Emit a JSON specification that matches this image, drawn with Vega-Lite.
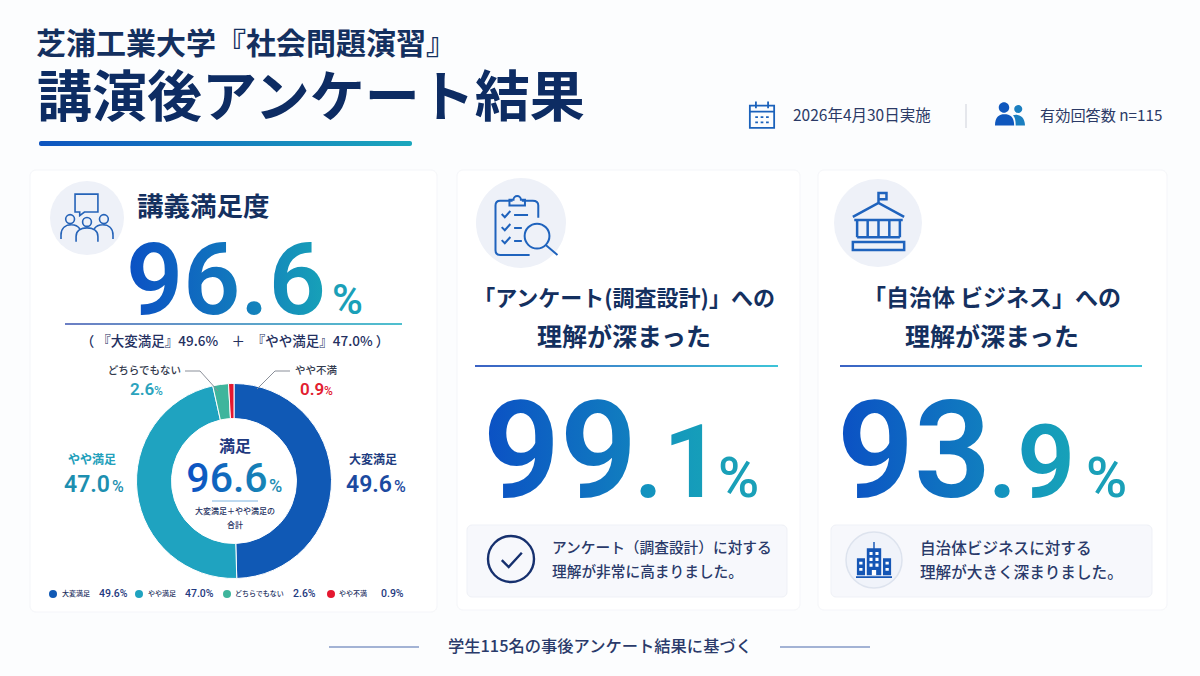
{
  "$schema": "https://vega.github.io/schema/vega-lite/v6.json",
  "description": "Post-lecture survey results: satisfaction donut and two understanding scores",
  "width": 1200,
  "height": 676,
  "autosize": {"type": "fit", "contains": "padding"},
  "padding": 0,
  "background": "#fcfdfe",
  "config": {
    "axis": {"disable": true},
    "view": {"stroke": null},
    "text": {"font": "Noto Sans CJK JP", "baseline": "middle", "align": "left", "color": "#14305f"}
  },
  "datasets": {
    "shares": [
      {"category": "大変満足", "share": 49.6, "rank": 1, "pct": "49.6%"},
      {"category": "やや満足", "share": 47.0, "rank": 2, "pct": "47.0%"},
      {"category": "どちらでもない", "share": 2.6, "rank": 3, "pct": "2.6%"},
      {"category": "やや不満", "share": 0.9, "rank": 4, "pct": "0.9%"}
    ]
  },
  "data": {"values": [{"part": "frame"}]},
  "layer": [
    {"mark": {"type": "rect", "fill": "#ffffff", "stroke": "#f4f5f9", "cornerRadius": 6},
     "encoding": {"x": {"datum": 30, "scale": {"domain": [0, 1200], "nice": false, "zero": false}}, "x2": {"datum": 437},
                  "y": {"datum": 170, "scale": {"domain": [0, 676], "nice": false, "zero": false, "reverse": true}}, "y2": {"datum": 612}}},
    {"mark": {"type": "rect", "fill": "#ffffff", "stroke": "#f4f5f9", "cornerRadius": 6},
     "encoding": {"x": {"datum": 457}, "x2": {"datum": 800}, "y": {"datum": 170}, "y2": {"datum": 610}}},
    {"mark": {"type": "rect", "fill": "#ffffff", "stroke": "#f4f5f9", "cornerRadius": 6},
     "encoding": {"x": {"datum": 818}, "x2": {"datum": 1167}, "y": {"datum": 170}, "y2": {"datum": 610}}},

    {"data": {"values": [{"label": "芝浦工業大学『社会問題演習』"}]}, "mark": {"type": "text", "fontSize": 30, "fontWeight": 700},
     "encoding": {"x": {"datum": 36}, "y": {"datum": 45}, "text": {"field": "label"}}},
    {"data": {"values": [{"label": "講演後アンケート結果"}]}, "mark": {"type": "text", "fontSize": 55, "fontWeight": 700, "color": "#0d2c63"},
     "encoding": {"x": {"datum": 37}, "y": {"datum": 99}, "text": {"field": "label"}}},
    {"mark": {"type": "rect", "cornerRadius": 2, "fill": {"gradient": "linear", "x1": 0, "y1": 0, "x2": 1, "y2": 0, "stops": [{"offset": 0, "color": "#0f55c0"}, {"offset": 1, "color": "#1ba7bd"}]}},
     "encoding": {"x": {"datum": 39}, "x2": {"datum": 412}, "y": {"datum": 141}, "y2": {"datum": 146}}},

    {"mark": {"type": "point", "filled": false, "stroke": "#1b62bb", "strokeWidth": 1.8, "opacity": 1, "size": 729, "shape": "M-.9 -.7 H.9 V.95 H-.9 Z M-.9 -.25 H.9 M-.45 -1 V-.5 M.45 -1 V-.5 M-.5 .15 H-.3 M-.1 .15 H.1 M.3 .15 H.5 M-.5 .55 H-.3 M-.1 .55 H.1 M.3 .55 H.5"},
     "encoding": {"x": {"datum": 762}, "y": {"datum": 115}}},
    {"data": {"values": [{"label": "2026年4月30日実施"}]}, "mark": {"type": "text", "fontSize": 15.5, "color": "#2b3a66"},
     "encoding": {"x": {"datum": 793}, "y": {"datum": 116}, "text": {"field": "label"}}},
    {"mark": {"type": "rule", "stroke": "#d5d9e0", "strokeWidth": 1.2},
     "encoding": {"x": {"datum": 966}, "y": {"datum": 104}, "y2": {"datum": 128}}},
    {"mark": {"type": "point", "filled": true, "fill": "#1b7fc0", "opacity": 1, "size": 900, "shape": "M.28 -.4 A.27 .27 0 1 0 .82 -.4 A.27 .27 0 1 0 .28 -.4 Z M.38 .7 C.38 .35 .33 .15 .2 .02 C.55 -.1 1 .1 1 .7 Z"},
     "encoding": {"x": {"datum": 1010}, "y": {"datum": 115}}},
    {"mark": {"type": "point", "filled": true, "fill": "#0f57bd", "opacity": 1, "size": 900, "shape": "M-.75 -.5 A.35 .35 0 1 0 -.05 -.5 A.35 .35 0 1 0 -.75 -.5 Z M-1 .7 C-1 .1 -.7 -.05 -.38 -.05 C0 -.05 .28 .1 .28 .7 Z"},
     "encoding": {"x": {"datum": 1010}, "y": {"datum": 115}}},
    {"data": {"values": [{"label": "有効回答数 n=115"}]}, "mark": {"type": "text", "fontSize": 15.2, "color": "#2b3a66"},
     "encoding": {"x": {"datum": 1040}, "y": {"datum": 116}, "text": {"field": "label"}}},

    {"mark": {"type": "point", "shape": "circle", "filled": true, "fill": "#eef1f8", "opacity": 1, "size": 5476},
     "encoding": {"x": {"datum": 87}, "y": {"datum": 218}}},
    {"mark": {"type": "point", "filled": false, "stroke": "#2563b8", "strokeWidth": 1.6, "opacity": 1, "size": 2704, "shape": "M-.46 -.88 H.42 V-.19 H-.1 L-.28 -.05 V-.19 H-.46 Z M-.82 .08 A.17 .17 0 1 0 -.48 .08 A.17 .17 0 1 0 -.82 .08 Z M-.17 .19 A.17 .17 0 1 0 .17 .19 A.17 .17 0 1 0 -.17 .19 Z M.48 .08 A.17 .17 0 1 0 .82 .08 A.17 .17 0 1 0 .48 .08 Z M-1 .85 V.7 C-1 .4 -.8 .3 -.6 .3 C-.45 .3 -.35 .35 -.28 .45 M-.42 .95 V.75 C-.42 .5 -.2 .42 0 .42 C.2 .42 .42 .5 .42 .75 V.95 M1 .85 V.7 C1 .4 .8 .3 .6 .3 C.45 .3 .35 .35 .28 .45"},
     "encoding": {"x": {"datum": 87}, "y": {"datum": 217}}},
    {"data": {"values": [{"label": "講義満足度"}]}, "mark": {"type": "text", "fontSize": 26.5, "fontWeight": 700},
     "encoding": {"x": {"datum": 137}, "y": {"datum": 208}, "text": {"field": "label"}}},
    {"data": {"values": [{"metric": "講義満足度", "value": 96.6}]},
     "mark": {"type": "text", "font": "Roboto", "fontWeight": 600, "fontSize": 100, "baseline": "alphabetic", "align": "center", "fill": {"gradient": "linear", "x1": 0, "y1": 0, "x2": 1, "y2": 0, "stops": [{"offset": 0, "color": "#0b50c4"}, {"offset": 0.55, "color": "#1279bd"}, {"offset": 1, "color": "#17a2b8"}]}},
     "encoding": {"x": {"datum": 226}, "y": {"datum": 314}, "text": {"field": "value", "type": "quantitative", "format": ".1f"}}},
    {"mark": {"type": "text", "text": "%", "font": "Roboto", "fontWeight": 500, "fontSize": 42, "baseline": "alphabetic", "color": "#1aa0b8"},
     "encoding": {"x": {"datum": 332}, "y": {"datum": 314}}},
    {"mark": {"type": "rect", "fill": {"gradient": "linear", "x1": 0, "y1": 0, "x2": 1, "y2": 0, "stops": [{"offset": 0, "color": "#6c7fc4"}, {"offset": 1, "color": "#4fc0cf"}]}},
     "encoding": {"x": {"datum": 65}, "x2": {"datum": 402}, "y": {"datum": 323}, "y2": {"datum": 325}}},
    {"data": {"values": [{"label": "（ 『大変満足』49.6%　＋　『やや満足』47.0% ）"}]}, "mark": {"type": "text", "fontSize": 13.5, "align": "center", "fontWeight": 500, "color": "#24305f"},
     "encoding": {"x": {"datum": 235}, "y": {"datum": 342}, "text": {"field": "label"}}},

    {"data": {"name": "shares"},
     "mark": {"type": "arc", "innerRadius": 62.5, "outerRadius": 97.5, "stroke": "#ffffff", "strokeWidth": 1},
     "encoding": {
       "x": {"datum": 234}, "y": {"datum": 481},
       "theta": {"field": "share", "type": "quantitative", "stack": true},
       "order": {"field": "rank", "type": "ordinal"},
       "color": {"field": "category", "type": "nominal", "legend": null,
                 "scale": {"domain": ["大変満足", "やや満足", "どちらでもない", "やや不満"], "range": ["#1059b5", "#1fa3c0", "#3fb59c", "#e5172f"]}}
     }},

    {"mark": {"type": "rule", "stroke": "#8a8f99", "strokeWidth": 1}, "encoding": {"x": {"datum": 185}, "x2": {"datum": 200}, "y": {"datum": 371}, "y2": {"datum": 371}}},
    {"mark": {"type": "rule", "stroke": "#8a8f99", "strokeWidth": 1}, "encoding": {"x": {"datum": 200}, "x2": {"datum": 218}, "y": {"datum": 371}, "y2": {"datum": 391}}},
    {"mark": {"type": "rule", "stroke": "#8a8f99", "strokeWidth": 1}, "encoding": {"x": {"datum": 257}, "x2": {"datum": 275}, "y": {"datum": 389}, "y2": {"datum": 371}}},
    {"mark": {"type": "rule", "stroke": "#8a8f99", "strokeWidth": 1}, "encoding": {"x": {"datum": 275}, "x2": {"datum": 290}, "y": {"datum": 371}, "y2": {"datum": 371}}},

    {"data": {"values": [{"label": "どちらでもない"}]}, "mark": {"type": "text", "fontSize": 10.5, "fontWeight": 500, "align": "right", "color": "#333a4d"},
     "encoding": {"x": {"datum": 181}, "y": {"datum": 371}, "text": {"field": "label"}}},
    {"data": {"name": "shares"}, "transform": [{"filter": "datum.rank === 3"}], "mark": {"type": "text", "font": "Roboto", "fontWeight": 600, "fontSize": 17, "color": "#2aa3bd"},
     "encoding": {"x": {"datum": 130}, "y": {"datum": 390}, "text": {"field": "share", "type": "quantitative", "format": ".1f"}}},
    {"mark": {"type": "text", "text": "%", "font": "Roboto", "fontWeight": 500, "fontSize": 12, "color": "#2aa3bd"},
     "encoding": {"x": {"datum": 154}, "y": {"datum": 391}}},
    {"data": {"values": [{"label": "やや不満"}]}, "mark": {"type": "text", "fontSize": 10.5, "fontWeight": 500, "color": "#333a4d"},
     "encoding": {"x": {"datum": 295}, "y": {"datum": 371}, "text": {"field": "label"}}},
    {"data": {"name": "shares"}, "transform": [{"filter": "datum.rank === 4"}], "mark": {"type": "text", "font": "Roboto", "fontWeight": 600, "fontSize": 17, "color": "#e2202f"},
     "encoding": {"x": {"datum": 300}, "y": {"datum": 390}, "text": {"field": "share", "type": "quantitative", "format": ".1f"}}},
    {"mark": {"type": "text", "text": "%", "font": "Roboto", "fontWeight": 500, "fontSize": 12, "color": "#e2202f"},
     "encoding": {"x": {"datum": 324}, "y": {"datum": 391}}},
    {"data": {"values": [{"label": "やや満足"}]}, "mark": {"type": "text", "fontSize": 12, "fontWeight": 700, "align": "center", "color": "#23a0bb"},
     "encoding": {"x": {"datum": 92}, "y": {"datum": 460}, "text": {"field": "label"}}},
    {"data": {"name": "shares"}, "transform": [{"filter": "datum.rank === 2"}], "mark": {"type": "text", "font": "Roboto", "fontWeight": 600, "fontSize": 23, "color": "#1d8fb0"},
     "encoding": {"x": {"datum": 64}, "y": {"datum": 485}, "text": {"field": "share", "type": "quantitative", "format": ".1f"}}},
    {"mark": {"type": "text", "text": "%", "font": "Roboto", "fontWeight": 500, "fontSize": 16, "color": "#1d8fb0"},
     "encoding": {"x": {"datum": 112}, "y": {"datum": 487}}},
    {"data": {"values": [{"label": "大変満足"}]}, "mark": {"type": "text", "fontSize": 12, "fontWeight": 700, "align": "center", "color": "#1d3c80"},
     "encoding": {"x": {"datum": 373}, "y": {"datum": 460}, "text": {"field": "label"}}},
    {"data": {"name": "shares"}, "transform": [{"filter": "datum.rank === 1"}], "mark": {"type": "text", "font": "Roboto", "fontWeight": 600, "fontSize": 23, "color": "#1c4aa0"},
     "encoding": {"x": {"datum": 346}, "y": {"datum": 485}, "text": {"field": "share", "type": "quantitative", "format": ".1f"}}},
    {"mark": {"type": "text", "text": "%", "font": "Roboto", "fontWeight": 500, "fontSize": 16, "color": "#1c4aa0"},
     "encoding": {"x": {"datum": 394}, "y": {"datum": 487}}},

    {"data": {"values": [{"label": "満足"}]}, "mark": {"type": "text", "fontSize": 16, "fontWeight": 700, "align": "center", "color": "#1f3a80"},
     "encoding": {"x": {"datum": 235}, "y": {"datum": 447}, "text": {"field": "label"}}},
    {"data": {"values": [{"metric": "満足", "value": 96.6}]},
     "mark": {"type": "text", "font": "Roboto", "fontWeight": 500, "fontSize": 41, "baseline": "alphabetic", "align": "center", "fill": {"gradient": "linear", "x1": 0, "y1": 0, "x2": 1, "y2": 0, "stops": [{"offset": 0, "color": "#0b50c4"}, {"offset": 1, "color": "#1787b5"}]}},
     "encoding": {"x": {"datum": 227}, "y": {"datum": 492}, "text": {"field": "value", "type": "quantitative", "format": ".1f"}}},
    {"mark": {"type": "text", "text": "%", "font": "Roboto", "fontWeight": 500, "fontSize": 18, "baseline": "alphabetic", "color": "#1e8db5"},
     "encoding": {"x": {"datum": 269}, "y": {"datum": 492}}},
    {"mark": {"type": "rule", "stroke": "#7fb4e0", "strokeWidth": 1}, "encoding": {"x": {"datum": 212}, "x2": {"datum": 258}, "y": {"datum": 501}, "y2": {"datum": 501}}},
    {"data": {"values": [{"label": "大変満足＋やや満足の"}]}, "mark": {"type": "text", "fontSize": 8, "fontWeight": 500, "align": "center", "color": "#24305f"},
     "encoding": {"x": {"datum": 235}, "y": {"datum": 512}, "text": {"field": "label"}}},
    {"data": {"values": [{"label": "合計"}]}, "mark": {"type": "text", "fontSize": 8, "fontWeight": 500, "align": "center", "color": "#24305f"},
     "encoding": {"x": {"datum": 235}, "y": {"datum": 526}, "text": {"field": "label"}}},

    {"mark": {"type": "point", "shape": "circle", "filled": true, "fill": "#1059b5", "opacity": 1, "size": 64}, "encoding": {"x": {"datum": 53}, "y": {"datum": 594}}},
    {"mark": {"type": "point", "shape": "circle", "filled": true, "fill": "#1fa3c0", "opacity": 1, "size": 64}, "encoding": {"x": {"datum": 139}, "y": {"datum": 594}}},
    {"mark": {"type": "point", "shape": "circle", "filled": true, "fill": "#3fb59c", "opacity": 1, "size": 64}, "encoding": {"x": {"datum": 227}, "y": {"datum": 594}}},
    {"mark": {"type": "point", "shape": "circle", "filled": true, "fill": "#e5172f", "opacity": 1, "size": 64}, "encoding": {"x": {"datum": 331}, "y": {"datum": 594}}},
    {"data": {"name": "shares"}, "transform": [{"filter": "datum.rank === 1"}], "mark": {"type": "text", "fontSize": 7, "fontWeight": 500, "color": "#24305f"}, "encoding": {"x": {"datum": 62}, "y": {"datum": 594}, "text": {"field": "category"}}},
    {"data": {"name": "shares"}, "transform": [{"filter": "datum.rank === 2"}], "mark": {"type": "text", "fontSize": 7, "fontWeight": 500, "color": "#24305f"}, "encoding": {"x": {"datum": 148}, "y": {"datum": 594}, "text": {"field": "category"}}},
    {"data": {"name": "shares"}, "transform": [{"filter": "datum.rank === 3"}], "mark": {"type": "text", "fontSize": 7, "fontWeight": 500, "color": "#24305f"}, "encoding": {"x": {"datum": 235}, "y": {"datum": 594}, "text": {"field": "category"}}},
    {"data": {"name": "shares"}, "transform": [{"filter": "datum.rank === 4"}], "mark": {"type": "text", "fontSize": 7, "fontWeight": 500, "color": "#24305f"}, "encoding": {"x": {"datum": 339}, "y": {"datum": 594}, "text": {"field": "category"}}},
    {"data": {"name": "shares"}, "transform": [{"filter": "datum.rank === 1"}], "mark": {"type": "text", "font": "Roboto", "fontSize": 10.5, "fontWeight": 500, "color": "#1f3a80"}, "encoding": {"x": {"datum": 99}, "y": {"datum": 594}, "text": {"field": "pct"}}},
    {"data": {"name": "shares"}, "transform": [{"filter": "datum.rank === 2"}], "mark": {"type": "text", "font": "Roboto", "fontSize": 10.5, "fontWeight": 500, "color": "#1f3a80"}, "encoding": {"x": {"datum": 185}, "y": {"datum": 594}, "text": {"field": "pct"}}},
    {"data": {"name": "shares"}, "transform": [{"filter": "datum.rank === 3"}], "mark": {"type": "text", "font": "Roboto", "fontSize": 10.5, "fontWeight": 500, "color": "#1f3a80"}, "encoding": {"x": {"datum": 293}, "y": {"datum": 594}, "text": {"field": "pct"}}},
    {"data": {"name": "shares"}, "transform": [{"filter": "datum.rank === 4"}], "mark": {"type": "text", "font": "Roboto", "fontSize": 10.5, "fontWeight": 500, "color": "#1f3a80"}, "encoding": {"x": {"datum": 381}, "y": {"datum": 594}, "text": {"field": "pct"}}},

    {"mark": {"type": "point", "shape": "circle", "filled": true, "fill": "#eef1f8", "opacity": 1, "size": 8100},
     "encoding": {"x": {"datum": 521}, "y": {"datum": 223}}},
    {"mark": {"type": "point", "filled": false, "stroke": "#1f63bd", "strokeWidth": 2, "opacity": 1, "size": 3844, "shape": "M-.45 -.75 H-.85 Q-1 -.75 -1 -.6 V.85 Q-1 1 -.85 1 H.1 M.38 -.2 V-.6 Q.38 -.75 .2 -.75 H-.15 M-.55 -.6 H-.05 V-.78 H-.18 A.12 .12 0 0 0 -.42 -.78 H-.55 Z M-.8 -.32 L-.7 -.22 L-.52 -.42 M-.4 -.29 H.05 M-.8 .1 L-.7 .2 L-.52 0 M-.4 .13 H-.15 M-.8 .52 L-.7 .62 L-.52 .42 M-.4 .55 H-.15 M-.06 .39 A.4 .4 0 1 0 .74 .39 A.4 .4 0 1 0 -.06 .39 M.62 .68 L1 1"},
     "encoding": {"x": {"datum": 526.5}, "y": {"datum": 224}}},
    {"data": {"values": [{"label": "「アンケート(調査設計)」への"}]}, "mark": {"type": "text", "fontSize": 22, "fontWeight": 700, "align": "center"},
     "encoding": {"x": {"datum": 624}, "y": {"datum": 299}, "text": {"field": "label"}}},
    {"data": {"values": [{"label": "理解が深まった"}]}, "mark": {"type": "text", "fontSize": 25, "fontWeight": 700, "align": "center"},
     "encoding": {"x": {"datum": 624}, "y": {"datum": 338}, "text": {"field": "label"}}},
    {"mark": {"type": "rect", "fill": {"gradient": "linear", "x1": 0, "y1": 0, "x2": 1, "y2": 0, "stops": [{"offset": 0, "color": "#3b62c4"}, {"offset": 1, "color": "#3dc4d8"}]}},
     "encoding": {"x": {"datum": 475}, "x2": {"datum": 778}, "y": {"datum": 365}, "y2": {"datum": 367}}},
    {"data": {"values": [{"metric": "アンケート（調査設計）", "label": "99"}]},
     "mark": {"type": "text", "font": "Roboto", "fontWeight": 600, "fontSize": 135, "baseline": "alphabetic", "align": "center", "fill": {"gradient": "linear", "x1": 0, "y1": 0, "x2": 1, "y2": 0, "stops": [{"offset": 0, "color": "#0b50c4"}, {"offset": 1, "color": "#1180bf"}]}},
     "encoding": {"x": {"datum": 560}, "y": {"datum": 497}, "text": {"field": "label"}}},
    {"data": {"values": [{"metric": "アンケート（調査設計）", "label": ".1"}]},
     "mark": {"type": "text", "font": "Roboto", "fontWeight": 600, "fontSize": 102, "baseline": "alphabetic", "fill": {"gradient": "linear", "x1": 0, "y1": 0, "x2": 1, "y2": 0, "stops": [{"offset": 0, "color": "#1290c0"}, {"offset": 1, "color": "#17a2b8"}]}},
     "encoding": {"x": {"datum": 634}, "y": {"datum": 497}, "text": {"field": "label"}}},
    {"mark": {"type": "text", "text": "%", "font": "Roboto", "fontWeight": 500, "fontSize": 56, "baseline": "alphabetic", "color": "#1aa0b8"},
     "encoding": {"x": {"datum": 718}, "y": {"datum": 497}}},
    {"mark": {"type": "rect", "fill": "#f7f8fc", "stroke": "#eff1f7", "cornerRadius": 5},
     "encoding": {"x": {"datum": 467}, "x2": {"datum": 787}, "y": {"datum": 525}, "y2": {"datum": 597}}},
    {"mark": {"type": "point", "filled": false, "stroke": "#16306e", "strokeWidth": 2.4, "opacity": 1, "size": 2116, "shape": "M-1 0 A1 1 0 1 0 1 0 A1 1 0 1 0 -1 0 Z M-.4 .05 L-.1 .35 L.47 -.27"},
     "encoding": {"x": {"datum": 511}, "y": {"datum": 559}}},
    {"data": {"values": [{"label": "アンケート（調査設計）に対する"}]}, "mark": {"type": "text", "fontSize": 14.7, "fontWeight": 500, "color": "#2a3a6a"},
     "encoding": {"x": {"datum": 552}, "y": {"datum": 549}, "text": {"field": "label"}}},
    {"data": {"values": [{"label": "理解が非常に高まりました。"}]}, "mark": {"type": "text", "fontSize": 14.7, "fontWeight": 500, "color": "#2a3a6a"},
     "encoding": {"x": {"datum": 552}, "y": {"datum": 573}, "text": {"field": "label"}}},

    {"mark": {"type": "point", "shape": "circle", "filled": true, "fill": "#eef1f8", "opacity": 1, "size": 7744},
     "encoding": {"x": {"datum": 878}, "y": {"datum": 223}}},
    {"mark": {"type": "point", "filled": false, "stroke": "#1f63bd", "strokeWidth": 2.5, "opacity": 1, "size": 3249, "shape": "M0 -.65 V-1 H.28 V-.78 H0 M-.9 -.16 L0 -.65 L.9 -.16 M-.85 -.05 H.85 M-.75 -.05 V.55 M-.38 -.05 V.55 M0 -.05 V.55 M.38 -.05 V.55 M.75 -.05 V.55 M-.75 .55 H.75 M-.9 .72 H.9 V1 H-.9 Z"},
     "encoding": {"x": {"datum": 878.5}, "y": {"datum": 221.5}}},
    {"data": {"values": [{"label": "「自治体 ビジネス」への"}]}, "mark": {"type": "text", "fontSize": 23, "fontWeight": 700, "align": "center"},
     "encoding": {"x": {"datum": 992}, "y": {"datum": 299}, "text": {"field": "label"}}},
    {"data": {"values": [{"label": "理解が深まった"}]}, "mark": {"type": "text", "fontSize": 25, "fontWeight": 700, "align": "center"},
     "encoding": {"x": {"datum": 992}, "y": {"datum": 338}, "text": {"field": "label"}}},
    {"mark": {"type": "rect", "fill": {"gradient": "linear", "x1": 0, "y1": 0, "x2": 1, "y2": 0, "stops": [{"offset": 0, "color": "#3b62c4"}, {"offset": 1, "color": "#3dc4d8"}]}},
     "encoding": {"x": {"datum": 840}, "x2": {"datum": 1142}, "y": {"datum": 365}, "y2": {"datum": 367}}},
    {"data": {"values": [{"metric": "自治体ビジネス", "label": "93"}]},
     "mark": {"type": "text", "font": "Roboto", "fontWeight": 600, "fontSize": 135, "baseline": "alphabetic", "align": "center", "fill": {"gradient": "linear", "x1": 0, "y1": 0, "x2": 1, "y2": 0, "stops": [{"offset": 0, "color": "#0b50c4"}, {"offset": 1, "color": "#1180bf"}]}},
     "encoding": {"x": {"datum": 914}, "y": {"datum": 497}, "text": {"field": "label"}}},
    {"data": {"values": [{"metric": "自治体ビジネス", "label": ".9"}]},
     "mark": {"type": "text", "font": "Roboto", "fontWeight": 600, "fontSize": 102, "baseline": "alphabetic", "fill": {"gradient": "linear", "x1": 0, "y1": 0, "x2": 1, "y2": 0, "stops": [{"offset": 0, "color": "#1290c0"}, {"offset": 1, "color": "#17a2b8"}]}},
     "encoding": {"x": {"datum": 988}, "y": {"datum": 497}, "text": {"field": "label"}}},
    {"mark": {"type": "text", "text": "%", "font": "Roboto", "fontWeight": 500, "fontSize": 56, "baseline": "alphabetic", "color": "#1aa0b8"},
     "encoding": {"x": {"datum": 1086}, "y": {"datum": 497}}},
    {"mark": {"type": "rect", "fill": "#f7f8fc", "stroke": "#eff1f7", "cornerRadius": 5},
     "encoding": {"x": {"datum": 831}, "x2": {"datum": 1152}, "y": {"datum": 525}, "y2": {"datum": 597}}},
    {"mark": {"type": "point", "shape": "circle", "filled": true, "fill": "#f0f3fa", "stroke": "#dde3ee", "strokeWidth": 1.5, "opacity": 1, "size": 3136},
     "encoding": {"x": {"datum": 874}, "y": {"datum": 560}}},
    {"mark": {"type": "point", "filled": true, "fill": "#1556b5", "opacity": 1, "size": 1296, "shape": "M-.4 -.65 H.4 V.85 H-.4 Z M-.04 -1 H.04 V-.65 H-.04 Z M-.95 -.1 H-.5 V.85 H-.95 Z M.5 -.1 H.95 V.85 H.5 Z M-1 .9 H1 V1 H-1 Z"},
     "encoding": {"x": {"datum": 874}, "y": {"datum": 560}}},
    {"mark": {"type": "point", "filled": true, "fill": "#ffffff", "opacity": 1, "size": 1296, "shape": "M-.25 -.45 H-.08 V-.28 H-.25 Z M.08 -.45 H.25 V-.28 H.08 Z M-.25 -.12 H-.08 V.05 H-.25 Z M.08 -.12 H.25 V.05 H.08 Z M-.25 .2 H-.08 V.37 H-.25 Z M.08 .2 H.25 V.37 H.08 Z M-.12 .55 H.12 V.85 H-.12 Z M-.82 .1 H-.64 V.25 H-.82 Z M.64 .1 H.82 V.25 H.64 Z M-.82 .45 H-.64 V.6 H-.82 Z M.64 .45 H.82 V.6 H.64 Z"},
     "encoding": {"x": {"datum": 874}, "y": {"datum": 560}}},
    {"data": {"values": [{"label": "自治体ビジネスに対する"}]}, "mark": {"type": "text", "fontSize": 15.6, "fontWeight": 500, "color": "#2a3a6a"},
     "encoding": {"x": {"datum": 920}, "y": {"datum": 549}, "text": {"field": "label"}}},
    {"data": {"values": [{"label": "理解が大きく深まりました。"}]}, "mark": {"type": "text", "fontSize": 15.6, "fontWeight": 500, "color": "#2a3a6a"},
     "encoding": {"x": {"datum": 920}, "y": {"datum": 573}, "text": {"field": "label"}}},

    {"mark": {"type": "rule", "stroke": "#4a6bab", "strokeWidth": 1.2}, "encoding": {"x": {"datum": 329}, "x2": {"datum": 419}, "y": {"datum": 647}, "y2": {"datum": 647}}},
    {"mark": {"type": "rule", "stroke": "#4a6bab", "strokeWidth": 1.2}, "encoding": {"x": {"datum": 780}, "x2": {"datum": 870}, "y": {"datum": 647}, "y2": {"datum": 647}}},
    {"data": {"values": [{"label": "学生115名の事後アンケート結果に基づく"}]}, "mark": {"type": "text", "fontSize": 16.3, "fontWeight": 500, "align": "center", "color": "#2a3a6a"},
     "encoding": {"x": {"datum": 600}, "y": {"datum": 647}, "text": {"field": "label"}}}
  ]
}
